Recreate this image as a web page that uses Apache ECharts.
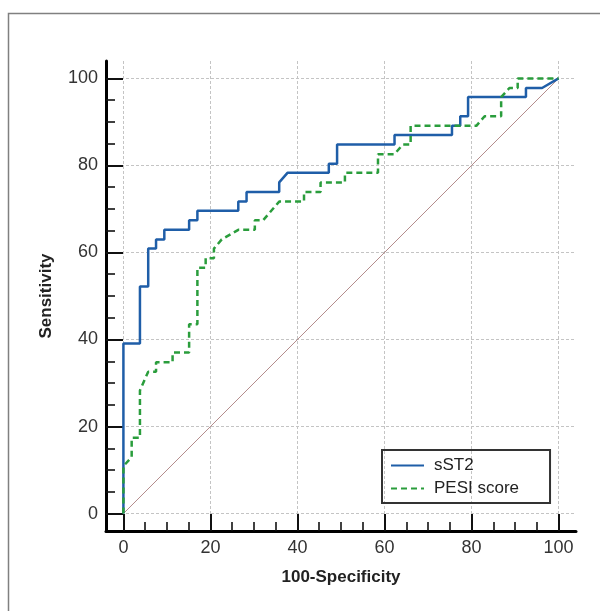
<!DOCTYPE html>
<html><head><meta charset="utf-8">
<script src="https://cdn.jsdelivr.net/npm/echarts@6/dist/echarts.min.js"></script>
<style>html,body{margin:0;padding:0;background:#fff}#c{width:600px;height:611px}</style>
</head><body><div id="c"></div>
<script>
const majorTicks = [0, 20, 40, 60, 80, 100];
const minorTicks = [5, 10, 15, 25, 30, 35, 45, 50, 55, 65, 70, 75, 85, 90, 95];
const seriesNames = ['sST2', 'PESI score'];

const sst2Spec = [0, 0, 3.8, 3.8, 5.7, 5.7, 7.5, 7.5, 9.4, 9.4, 15.1, 15.1, 17.0, 17.0, 26.4, 26.4, 28.3, 28.3, 35.8, 35.8, 37.7, 47.2, 47.2, 49.1, 49.1, 62.3, 62.3, 75.5, 75.5, 77.4, 77.4, 79.2, 79.2, 92.5, 92.5, 96.2, 100];
const sst2Sens = [0, 39.1, 39.1, 52.2, 52.2, 60.9, 60.9, 63.0, 63.0, 65.2, 65.2, 67.4, 67.4, 69.6, 69.6, 71.7, 71.7, 73.9, 73.9, 76.1, 78.3, 78.3, 80.4, 80.4, 84.8, 84.8, 87.0, 87.0, 89.1, 89.1, 91.3, 91.3, 95.7, 95.7, 97.8, 97.8, 100];

const pesiSpec = [0, 0, 1.9, 1.9, 3.8, 3.8, 5.7, 7.5, 7.5, 11.3, 11.3, 15.1, 15.1, 17.0, 17.0, 18.9, 18.9, 20.8, 20.8, 22.6, 26.4, 30.2, 30.2, 32.1, 35.8, 41.5, 41.5, 45.3, 45.3, 50.9, 50.9, 58.5, 58.5, 62.3, 64.2, 66.0, 66.0, 81.1, 83.0, 86.8, 86.8, 88.7, 90.6, 90.6, 100];
const pesiSens = [0, 10.9, 13.0, 17.4, 17.4, 28.3, 32.6, 32.6, 34.8, 34.8, 37.0, 37.0, 43.5, 43.5, 56.5, 56.5, 58.7, 58.7, 60.9, 63.0, 65.2, 65.2, 67.4, 67.4, 71.7, 71.7, 73.9, 73.9, 76.1, 76.1, 78.3, 78.3, 82.6, 82.6, 84.8, 84.8, 89.1, 89.1, 91.3, 91.3, 95.7, 97.8, 97.8, 100, 100];

const diagSpec = [0, 100];
const diagSens = [0, 100];

const zip = (a, b) => a.map((v, i) => [v, b[i]]);
const FONT = "'Liberation Sans', Arial, sans-serif";

const chart = echarts.init(document.getElementById('c'), null, {renderer: 'canvas'});

function mkAxis(isX, major) {
  const base = {
    type: 'value', min: -4, max: 104,
    position: isX ? 'bottom' : 'left',
    axisLine: {show: major, onZero: false, lineStyle: {color: '#000', width: 3}},
    axisTick: {show: true, inside: true, length: major ? 17 : 9,
      customValues: major ? majorTicks : minorTicks,
      lineStyle: {color: '#111', width: major ? 2 : 1.6}},
    axisLabel: major ? {show: true, customValues: majorTicks, margin: 8, fontSize: 18, color: '#333', fontFamily: FONT}
                     : {show: false},
    splitLine: major ? {show: true, lineStyle: {color: '#c4c4c4', type: [3, 2], width: 1}} : {show: false}
  };
  if (major) {
    base.name = isX ? '100-Specificity' : 'Sensitivity';
    base.nameLocation = 'middle';
    base.nameGap = isX ? 38 : 51;
    base.nameTextStyle = {fontWeight: 'bold', fontSize: 17, color: '#222', fontFamily: FONT};
  }
  return base;
}

chart.setOption({
  animation: false,
  backgroundColor: '#fff',
  grid: {left: 106, right: 24, top: 61, bottom: 80, containLabel: false},
  xAxis: [mkAxis(true, true), mkAxis(true, false)],
  yAxis: [mkAxis(false, true), mkAxis(false, false)],
  legend: {
    data: seriesNames,
    orient: 'vertical',
    left: 382, top: 450,
    itemWidth: 33, itemHeight: 14, itemGap: 6,
    padding: [7, 31, 6, 8],
    borderColor: '#333', borderWidth: 2,
    itemStyle: {color: 'transparent', borderColor: 'transparent', borderWidth: 0, opacity: 0},
    textStyle: {fontSize: 17, color: '#222', fontFamily: FONT, padding: [0, 0, 0, 5]}
  },
  graphic: [{
    type: 'rect', silent: true, z: -1,
    shape: {x: 8.5, y: 13.5, width: 640, height: 640},
    style: {fill: 'none', stroke: '#808080', lineWidth: 1.5}
  }],
  series: [
    {type: 'line', name: 'diag', data: zip(diagSpec, diagSens), symbol: 'none', silent: true,
     lineStyle: {color: '#b48c8c', width: 1}, z: 1},
    {type: 'line', name: seriesNames[0], data: zip(sst2Spec, sst2Sens), symbol: 'none',
     lineStyle: {color: '#1f5ea8', width: 2.5}, itemStyle: {color: '#1f5ea8'}, z: 3},
    {type: 'line', name: seriesNames[1], data: zip(pesiSpec, pesiSens), symbol: 'none',
     lineStyle: {color: '#2a9d3c', width: 2.5, type: [6, 4]}, itemStyle: {color: '#2a9d3c'}, z: 4}
  ]
});
</script></body></html>
